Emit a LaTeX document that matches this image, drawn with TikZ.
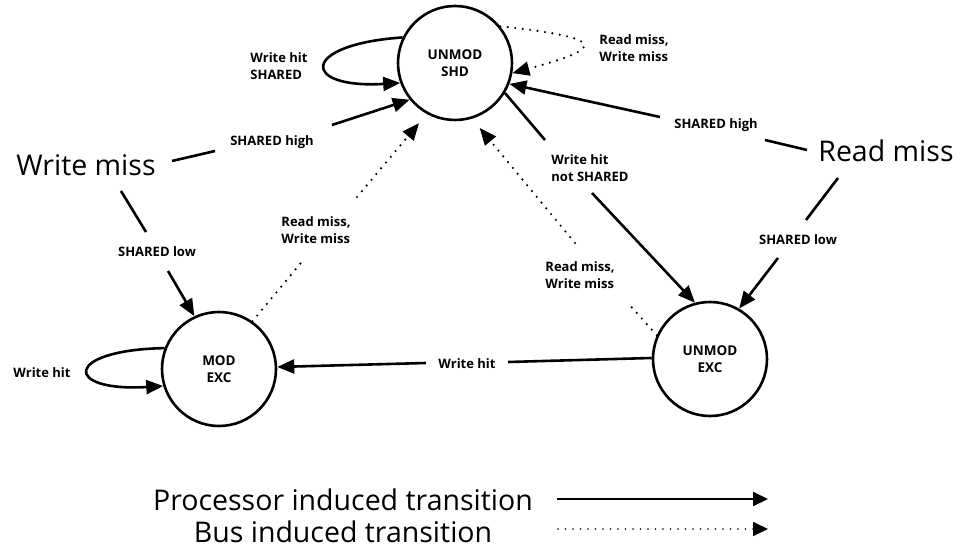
\documentclass[tikz,border=0pt]{standalone}
\usepackage{fontspec}
\setmainfont{Open Sans}
\usetikzlibrary{arrows.meta}
\begin{document}
\begin{tikzpicture}[x=1pt,y=-1pt,
  stnode/.style={circle,draw,line width=2.6pt,minimum size=114pt,inner sep=0pt,align=center,
    font=\bfseries\fontsize{13.5}{16.5}\selectfont},
  cond/.style={inner sep=0pt,align=left,font=\bfseries\fontsize{13}{17}\selectfont},
  event/.style={inner sep=0pt,font=\fontsize{28.5}{32}\selectfont},
  legendtext/.style={inner sep=0pt,anchor=base,font=\fontsize{28.5}{32}\selectfont},
  proc/.style={line width=2.6pt},
  bus/.style={line width=2.4pt,dash pattern=on 0pt off 7.5pt,line cap=round},
  headed/.style={-{Triangle[length=17pt,width=14pt]}},
]
\path[use as bounding box] (0,0) rectangle (956,548);

% states
\node[stnode] (shd) at (455,63)  {UNMOD\\SHD};
\node[stnode] (mex) at (219,369) {MOD\\EXC};
\node[stnode] (uex) at (710,359) {UNMOD\\EXC};

% events and conditions
\node[event] (wm) at (86,165)  {Write miss};
\node[event] (rm) at (886,151) {Read miss};
\node[cond] (shh1) at (272,142) {SHARED high};
\node[cond] (shl1) at (157,252) {SHARED low};
\node[cond] (shh2) at (716,125) {SHARED high};
\node[cond] (shl2) at (798,240) {SHARED low};
\node[cond] (whs)  at (279,66)  {Write hit\\SHARED};
\node[cond] (rwm1) at (634,48)  {Read miss,\\Write miss};
\node[cond] (whns) at (590,168) {Write hit\\not SHARED};
\node[cond] (rwm2) at (580,275) {Read miss,\\Write miss};
\node[cond] (rwm3) at (316,230) {Read miss,\\Write miss};
\node[cond] (wh1)  at (42,373)  {Write hit};
\node[cond] (wh2)  at (467,364) {Write hit};

% write miss
\draw[proc] ([shift={(86,-4)}]wm.center) -- ([shift={(-57,9)}]shh1.center);
\draw[proc,headed] ([shift={(60,-17)}]shh1.center) -- (shd.219);
\draw[proc] ([shift={(35,26)}]wm.center) -- ([shift={(-11,-20)}]shl1.center);
\draw[proc,headed] ([shift={(11,19)}]shl1.center) -- (mex.115);

% read miss
\draw[proc] ([shift={(-79,-1)}]rm.center) -- ([shift={(49,15)}]shh2.center);
\draw[proc,headed] ([shift={(-56,-8)}]shh2.center) -- (shd.339);
\draw[proc] ([shift={(-48,27)}]rm.center) -- ([shift={(8,-20)}]shl2.center);
\draw[proc,headed] ([shift={(-20,18)}]shl2.center) -- (uex.60);

% self loops
\draw[proc,headed] (shd.154) .. controls +(-103,7) and +(-100,6) .. (shd.200);
\draw[proc,headed] (mex.159) .. controls +(-102,2) and +(-100,6) .. (mex.197);
\draw[bus,headed] (shd.39) .. controls +(110,12) and +(92,-25) .. (shd.350);

% write hit transitions
\draw[proc] (shd.329) -- ([shift={(-45,-28)}]whns.center);
\draw[proc,headed] ([shift={(2,25)}]whns.center) -- (uex.105);
\draw[proc] (uex.179) -- ([shift={(41,-2)}]wh2.center);
\draw[proc,headed] ([shift={(-41,-1)}]wh2.center) -- (mex.2);

% bus transitions back to UNMOD SHD
\draw[bus] (uex.156) -- ([shift={(47,27)}]rwm2.center);
\draw[bus,headed,shorten >=12pt] ([shift={(-5,-32)}]rwm2.center) -- (shd.287);
\draw[bus] (mex.55) -- ([shift={(-11,28)}]rwm3.center);
\draw[bus,headed,shorten >=12pt] ([shift={(41,-33)}]rwm3.center) -- (shd.241);

% legend
\node[legendtext] (lp) at (343,510) {Processor induced transition};
\node[legendtext] (lb) at (343,542) {Bus induced transition};
\coordinate (lp0) at (557,499);
\coordinate (lp1) at (768,499);
\coordinate (lb0) at (558,529);
\coordinate (lb1) at (768,529);
\draw[line width=2pt,-{Triangle[length=15pt,width=14pt]}] (lp0) -- (lp1);
\draw[line width=1.8pt,dash pattern=on 0pt off 7.5pt,line cap=round,-{Triangle[length=15pt,width=14pt]}] (lb0) -- (lb1);
\end{tikzpicture}
\end{document}
